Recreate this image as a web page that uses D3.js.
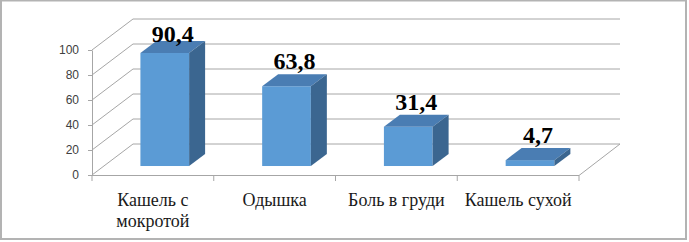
<!DOCTYPE html>
<html>
<head>
<meta charset="utf-8">
<script src="https://cdn.jsdelivr.net/npm/d3@7"></script>
<style>
  body { margin: 0; background: #fff; }
  svg { display: block; }
</style>
</head>
<body>
<svg id="chart"></svg>
<script>
// data
const categories = ["Кашель с мокротой", "Одышка", "Боль в груди", "Кашель сухой"];
const values = [90.4, 63.8, 31.4, 4.7];
const valueLabels = ["90,4", "63,8", "31,4", "4,7"];
const yTicks = [0, 20, 40, 60, 80, 100];

const W = 689, H = 242;
const plot = {left: 92, right: 579, top: 50, bottom: 175};
const depth = {x: 41, y: -31};     // depth of the 3D box
const barFront = 0.29, barDepth = 0.39; // fractions of depth

const svg = d3.select('#chart').attr('width', W).attr('height', H);

// outer frame
svg.append('rect')
  .attr('x', 1).attr('y', 0.5).attr('width', 685).attr('height', 238.5)
  .attr('fill', 'none').attr('stroke', '#b3b3b3').attr('stroke-width', 2);

const y = d3.scaleLinear().domain([0, 100]).range([plot.bottom, plot.top]);
const xCat = d3.scaleBand().domain(categories).range([plot.left, plot.right]).padding(0);
const xBar = d3.scaleBand().domain(categories).range([plot.left, plot.right])
  .paddingInner(0.6).paddingOuter(0.3);

const grid = '#a6a6a6';

// left wall + back wall gridlines
svg.append('g').selectAll('path')
  .data(yTicks)
  .join('path')
  .attr('d', d => `M${plot.left},${y(d)} L${plot.left + depth.x},${y(d) + depth.y} L${plot.right + depth.x},${y(d) + depth.y}`)
  .attr('fill', 'none').attr('stroke', grid).attr('stroke-width', 1);

// floor
svg.append('path')
  .attr('d', `M${plot.left},${y(0) + 0.5} L${plot.right},${y(0) + 0.5} L${plot.right + depth.x},${y(0) + depth.y}`)
  .attr('fill', 'none').attr('stroke', grid);

// y axis
const yAxis = d3.axisLeft(y).tickValues(yTicks).tickSize(4).tickPadding(9).tickSizeOuter(0);
const yAxisG = svg.append('g').attr('transform', `translate(${plot.left},0)`).call(yAxis);
yAxisG.select('.domain').attr('stroke', grid);
yAxisG.selectAll('.tick line').attr('stroke', grid);
yAxisG.selectAll('.tick text')
  .attr('font-family', '"Liberation Sans", Arial, sans-serif')
  .attr('font-size', 12).attr('fill', '#404040');

// x axis ticks at category borders
const borders = categories.map(c => xCat(c)).concat([plot.right]);
svg.append('g').selectAll('line')
  .data(borders)
  .join('line')
  .attr('x1', d => d).attr('x2', d => d)
  .attr('y1', y(0) + 0.5).attr('y2', y(0) + 6)
  .attr('stroke', grid);

// category labels
const catG = svg.append('g');
categories.forEach(c => {
  const cx = xCat(c) + xCat.bandwidth() / 2;
  const t = catG.append('text')
    .attr('x', cx)
    .attr('y', 206)
    .attr('text-anchor', 'middle')
    .attr('font-family', '"Liberation Serif", "Times New Roman", serif')
    .attr('font-size', 18).attr('fill', '#1a1a1a');
  // simple word wrap
  const words = c.split(' ');
  let line = [], tspan = t.append('tspan').attr('x', cx);
  words.forEach(w => {
    line.push(w);
    tspan.text(line.join(' '));
    if (tspan.node().getComputedTextLength() > xCat.bandwidth() - 4 && line.length > 1) {
      line.pop();
      tspan.text(line.join(' '));
      line = [w];
      tspan = t.append('tspan').attr('x', cx).attr('dy', 21).text(w);
    }
  });
});

// bars
const f = {x: depth.x * barFront, y: depth.y * barFront};
const b = {x: depth.x * barDepth, y: depth.y * barDepth};
const bars = categories.map((c, i) => {
  const x0 = xBar(c) + f.x, x1 = x0 + xBar.bandwidth();
  const yb = y(0) + f.y, yt = y(values[i]) + f.y;
  return {c, v: values[i], label: valueLabels[i], x0, x1, yb, yt};
});

const barG = svg.append('g').selectAll('g').data(bars).join('g');
barG.append('rect')
  .attr('x', d => d.x0).attr('y', d => d.yt)
  .attr('width', d => d.x1 - d.x0).attr('height', d => d.yb - d.yt)
  .attr('fill', '#5b9bd5');
barG.append('path')
  .attr('d', d => `M${d.x0},${d.yt} L${d.x1},${d.yt} L${d.x1 + b.x},${d.yt + b.y} L${d.x0 + b.x},${d.yt + b.y}Z`)
  .attr('fill', '#4a7db3');
barG.append('path')
  .attr('d', d => `M${d.x1},${d.yt} L${d.x1 + b.x},${d.yt + b.y} L${d.x1 + b.x},${d.yb + b.y} L${d.x1},${d.yb}Z`)
  .attr('fill', '#3b6690');

// value labels
barG.append('text')
  .attr('x', d => (d.x0 + d.x1) / 2 + b.x / 2)
  .attr('y', d => Math.max(d.yt - 17, plot.top - 8))
  .attr('text-anchor', 'middle')
  .attr('font-family', '"Liberation Serif", "Times New Roman", serif')
  .attr('font-weight', 'bold')
  .attr('font-size', 24).attr('fill', '#000')
  .text(d => d.label);
</script>
</body>
</html>
